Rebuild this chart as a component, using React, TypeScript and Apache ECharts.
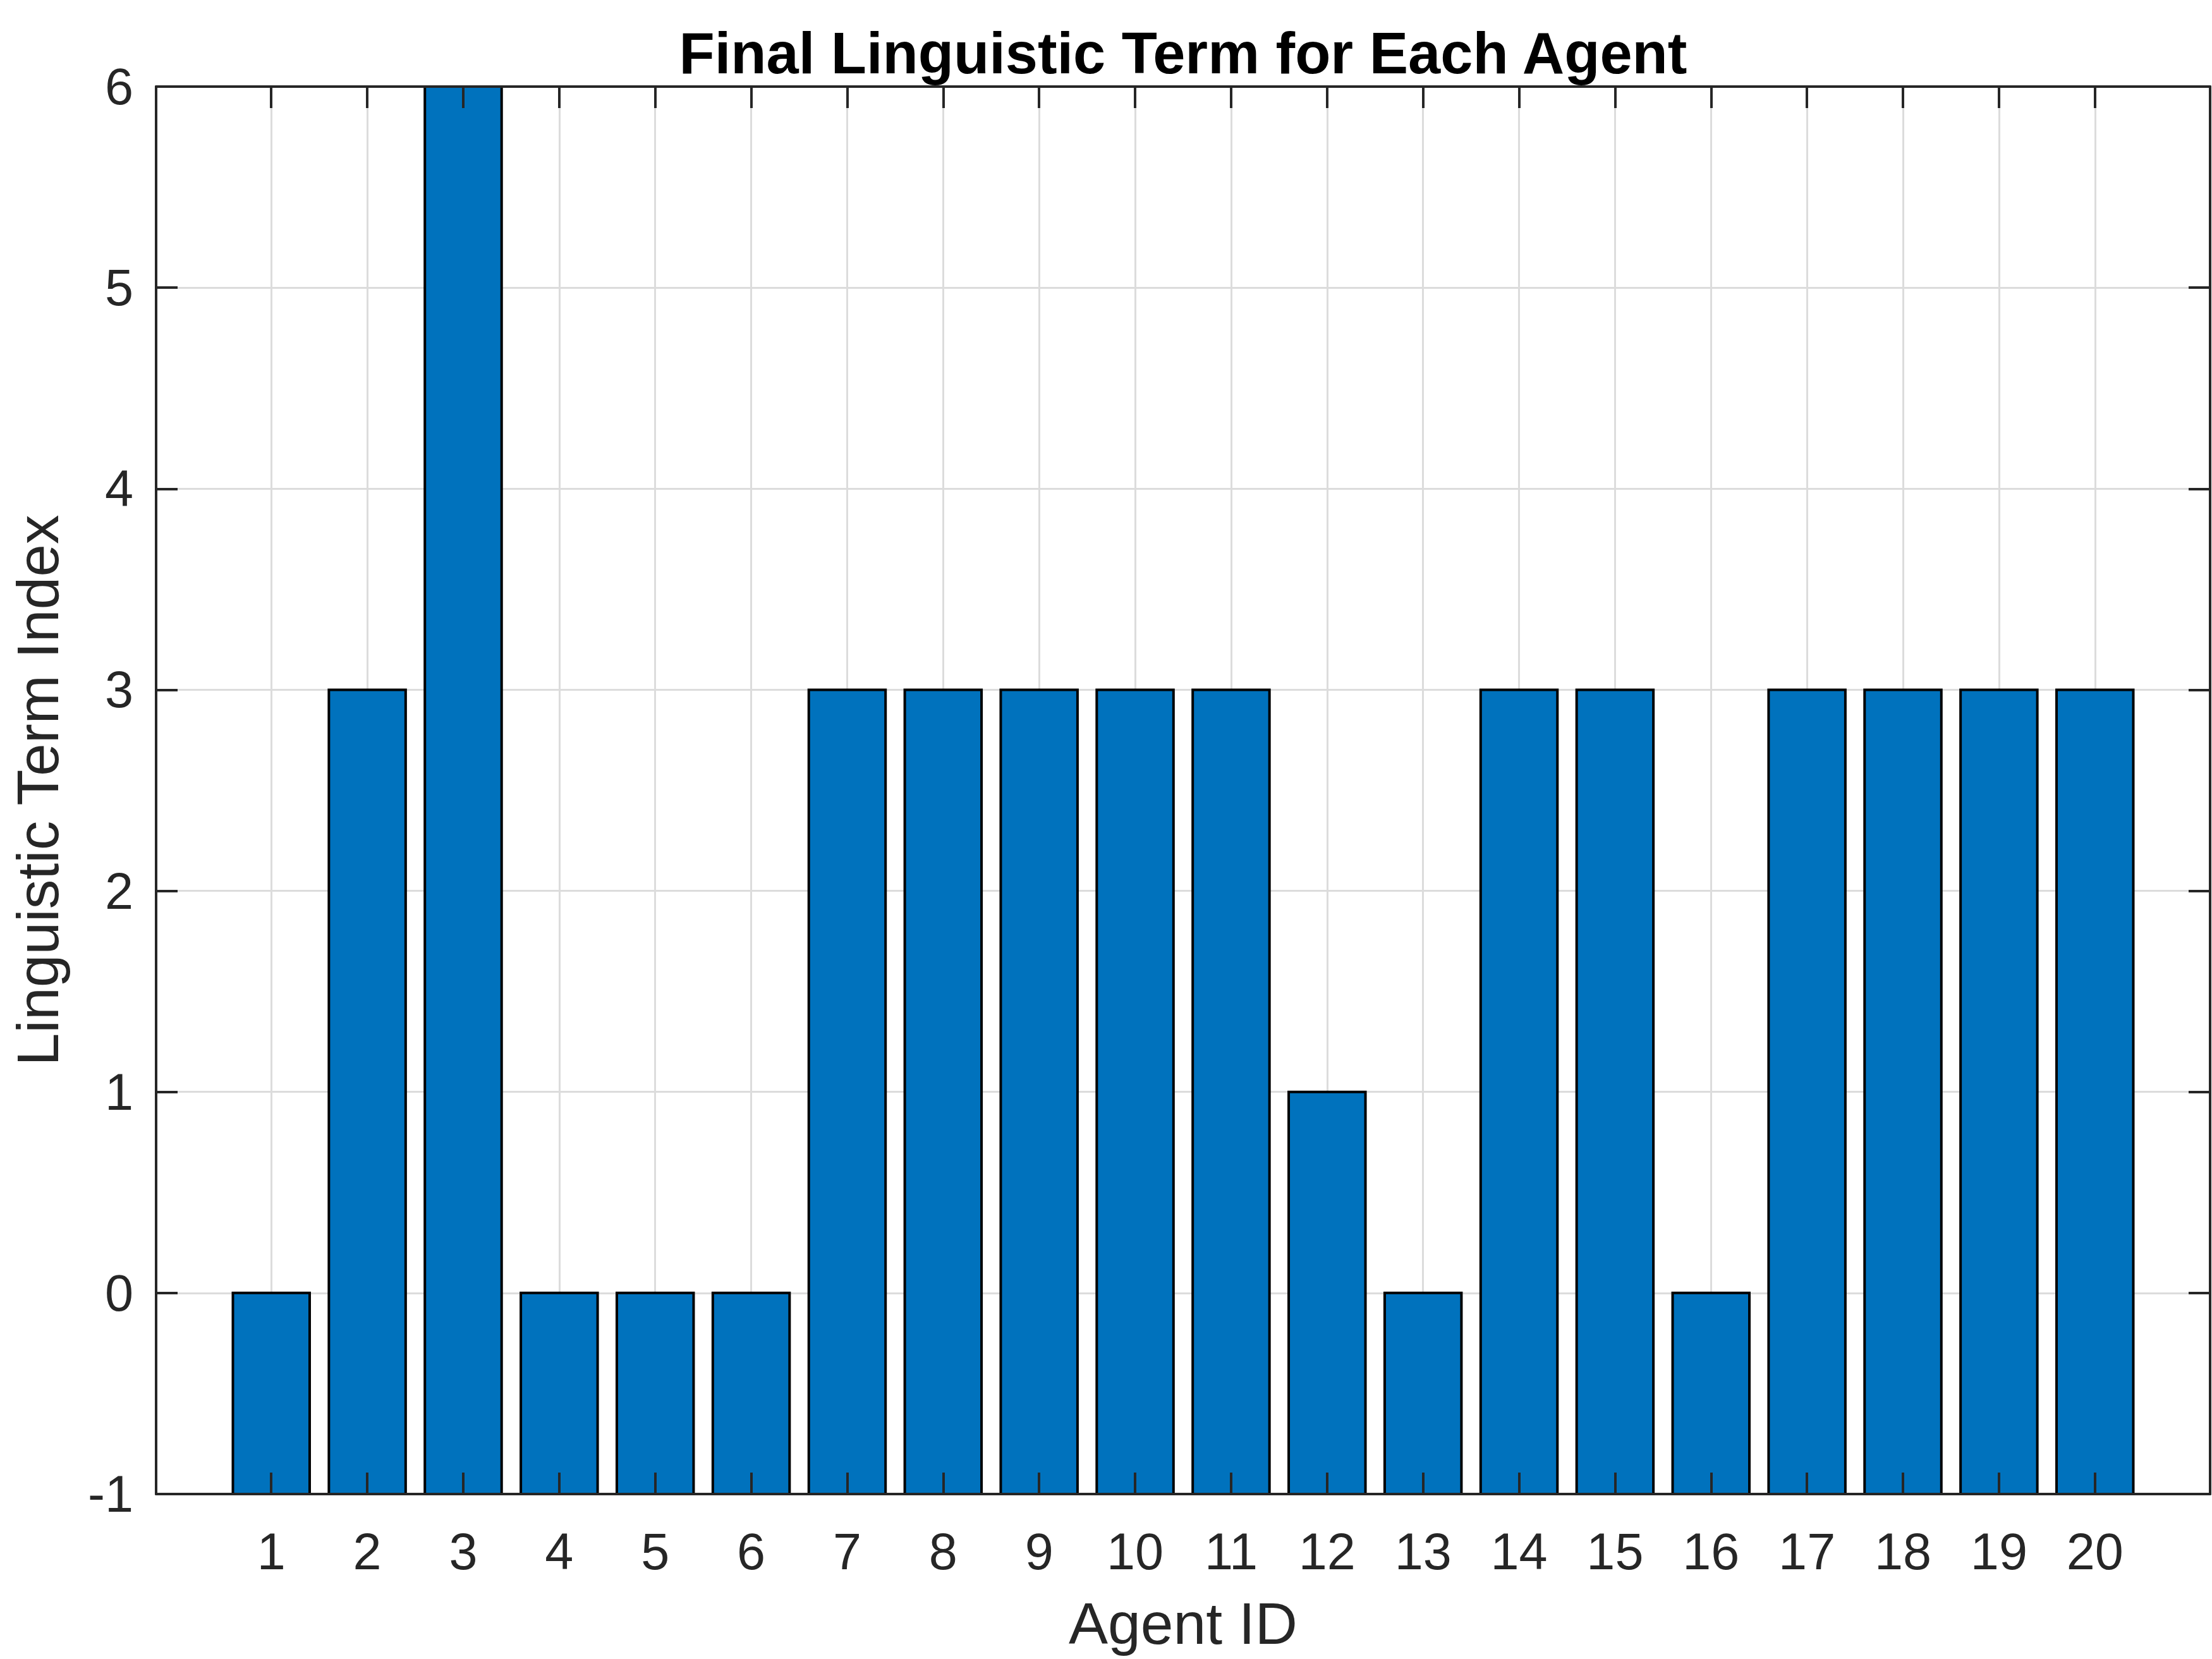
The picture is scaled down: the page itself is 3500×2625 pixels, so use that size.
import React, { useEffect, useRef } from "react";
import * as echarts from "echarts";

const agentIds = [1, 2, 3, 4, 5, 6, 7, 8, 9, 10, 11, 12, 13, 14, 15, 16, 17, 18, 19, 20];
const termIndex = [0, 3, 6, 0, 0, 0, 3, 3, 3, 3, 3, 1, 0, 3, 3, 0, 3, 3, 3, 3];
const chartTitle = "Final Linguistic Term for Each Agent";
const xLabel = "Agent ID";
const yLabel = "Linguistic Term Index";
const xMin = -0.2;
const xMax = 21.2;
const yMin = -1;
const yMax = 6;
const barBase = -1;
const barHalfWidth = 0.4;

export default function App() {
  const ref = useRef<HTMLDivElement>(null);
  useEffect(() => {
    document.body.style.margin = "0";
    const chart = echarts.init(ref.current!, null, { renderer: "svg" });
    const font = "'Liberation Sans', Arial, Helvetica, sans-serif";
    const axisColor = "#262626";
    const gridColor = "#dcdcdc";
    const gridRect = { left: 247, top: 137, width: 3250, height: 2227 };
    const lineStyle = { color: axisColor, width: 4 };

    const renderItem = (params: any, api: any) => {
      const x = api.value(0);
      const v = api.value(1);
      const p0 = api.coord([x - barHalfWidth, barBase]);
      const p1 = api.coord([x + barHalfWidth, v]);
      return {
        type: "rect",
        shape: { x: p0[0], y: p1[1], width: p1[0] - p0[0], height: p0[1] - p1[1] },
        style: { fill: "#0072BD", stroke: "#000000", lineWidth: 4 },
      };
    };

    chart.setOption({
      animation: false,
      backgroundColor: "#ffffff",
      grid: [
        { ...gridRect, containLabel: false },
        { ...gridRect, containLabel: false },
      ],
      xAxis: [
        {
          gridIndex: 0,
          type: "value",
          min: xMin,
          max: xMax,
          axisLine: { show: false, onZero: false },
          axisTick: { show: false, customValues: agentIds },
          axisLabel: { show: false, customValues: agentIds },
          splitLine: { show: true, lineStyle: { color: gridColor, width: 3 } },
        },
        {
          gridIndex: 1,
          type: "value",
          min: xMin,
          max: xMax,
          position: "bottom",
          z: 10,
          axisLine: { show: true, onZero: false, lineStyle },
          axisTick: { show: true, inside: true, length: 34, customValues: agentIds, lineStyle },
          axisLabel: { show: true, customValues: agentIds, margin: 50, fontSize: 81, color: axisColor, fontFamily: font },
          splitLine: { show: false },
          name: xLabel,
          nameLocation: "middle",
          nameGap: 158,
          nameTextStyle: { fontSize: 93, color: axisColor, fontFamily: font },
        },
        {
          gridIndex: 1,
          type: "value",
          min: xMin,
          max: xMax,
          position: "top",
          z: 10,
          axisLine: { show: true, onZero: false, lineStyle },
          axisTick: { show: true, inside: true, length: 34, customValues: agentIds, lineStyle },
          axisLabel: { show: false, customValues: agentIds },
          splitLine: { show: false },
        },
      ],
      yAxis: [
        {
          gridIndex: 0,
          type: "value",
          min: yMin,
          max: yMax,
          interval: 1,
          axisLine: { show: false, onZero: false },
          axisTick: { show: false },
          axisLabel: { show: false },
          splitLine: { show: true, lineStyle: { color: gridColor, width: 3 } },
        },
        {
          gridIndex: 1,
          type: "value",
          min: yMin,
          max: yMax,
          interval: 1,
          position: "left",
          z: 10,
          axisLine: { show: true, onZero: false, lineStyle },
          axisTick: { show: true, inside: true, length: 34, lineStyle },
          axisLabel: { show: true, margin: 36, fontSize: 81, color: axisColor, fontFamily: font },
          splitLine: { show: false },
          name: yLabel,
          nameLocation: "middle",
          nameGap: 141,
          nameTextStyle: { fontSize: 93, color: axisColor, fontFamily: font },
        },
        {
          gridIndex: 1,
          type: "value",
          min: yMin,
          max: yMax,
          interval: 1,
          position: "right",
          z: 10,
          axisLine: { show: true, onZero: false, lineStyle },
          axisTick: { show: true, inside: true, length: 34, lineStyle },
          axisLabel: { show: false },
          splitLine: { show: false },
        },
      ],
      series: [
        {
          type: "custom",
          xAxisIndex: 0,
          yAxisIndex: 0,
          z: 2,
          clip: true,
          data: agentIds.map((id, i) => [id, termIndex[i]]),
          renderItem,
        },
      ],
      graphic: [
        {
          type: "text",
          x: 1872,
          y: 84,
          style: {
            text: chartTitle,
            fontSize: 92,
            fontWeight: "bold",
            fontFamily: font,
            fill: "#000000",
            textAlign: "center",
            textVerticalAlign: "middle",
          },
        },
      ],
    });
    return () => chart.dispose();
  }, []);
  return <div ref={ref} style={{ width: 3500, height: 2625 }} />;
}
